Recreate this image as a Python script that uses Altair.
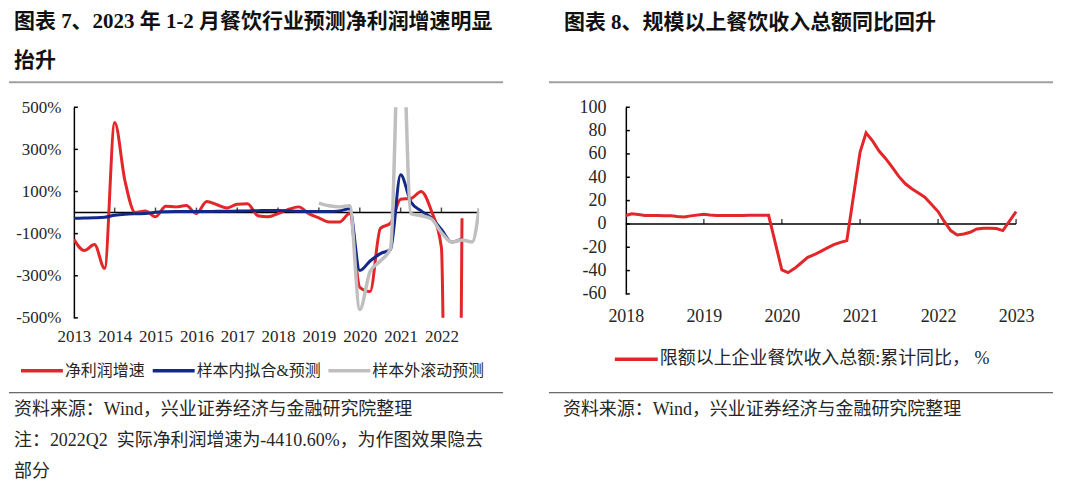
import altair as alt
import pandas as pd

# ---------------- texts ----------------
LEFT_TITLE_1 = "图表 7、2023 年 1-2 月餐饮行业预测净利润增速明显"
LEFT_TITLE_2 = "抬升"
RIGHT_TITLE = "图表 8、规模以上餐饮收入总额同比回升"
SOURCE = "资料来源：Wind，兴业证券经济与金融研究院整理"
NOTE_1 = "注：2022Q2\u00a0\u00a0实际净利润增速为-4410.60%，为作图效果隐去"
NOTE_2 = "部分"

SERIES_LEFT = ["净利润增速", "样本内拟合&预测", "样本外滚动预测"]
SERIES_RIGHT = ["限额以上企业餐饮收入总额:累计同比，\u00a0%"]

# ---------------- left chart data (quarterly, %) ----------------
quarters = [f"{y}-{m:02d}" for y in range(2013, 2023) for m in (3, 6, 9, 12)]
red_periods = quarters[:39]          # 2013Q1 .. 2022Q3
red_vals = [-127, -180, -152, -265,
            428, 150, 0, 8,
            -20, 30, 27, 33,
            -5, 52, 37, 22,
            40, 42, -15, -20,
            -5, 15, 27, -5,
            -25, -45, -45, -5,
            -355, -375, -75, -50,
            63, 67, 100, 8,
            -167, -4410.6, -27]
blue_periods = quarters[:39]
blue_vals = [-27, -26, -25, -22,
             -13, -8, -6, -5,
             2, 4, 5, 5,
             5, 5, 6, 6,
             7, 8, 9, 10,
             10, 8, 6, 5,
             5, 5, 8, 18,
             -275, -230, -195, -175,
             180, 50, 8, -25,
             -80, -140, -125]
gray_periods = quarters[24:] + ["2023-02"]   # 2019Q1 .. 2022Q4, 2023M1-2
gray_vals = [45, 32, 27, 32,
             -460, -280, -230, -170,
             1100, -5, -15, -30,
             -95, -140, -130, -140,
             20]

# ---------------- right chart data (monthly cumulative yoy, %) ----------------
months = [f"{y}-{m:02d}" for y in range(2018, 2023) for m in range(2, 13)] + ["2023-02"]
right_vals = [7.2, 8.6, 8.0, 7.2, 7.2, 7.2, 6.9, 6.9, 6.3, 6.0, 6.9,
              8.3, 7.7, 7.2, 7.2, 7.2, 7.3, 7.3, 7.4, 7.4, 7.4, 7.4,
              -39.5, -41.8, -38.1, -33.5, -28.7, -26.4, -23.5, -20.6, -17.8, -15.8, -14.3,
              61.6, 78.0, 71.0, 62.5, 55.9, 48.7, 40.7, 34.4, 30.1, 26.4, 22.9,
              10.6, 2.3, -5.7, -9.5, -8.6, -7.2, -4.3, -3.7, -3.7, -4.0, -5.7,
              10.6]

Y_TICKS_L = [500, 300, 100, -100, -300, -500]
Y_TICKS_R = [100, 80, 60, 40, 20, 0, -20, -40, -60]
YEARS_L = list(range(2013, 2023))
YEARS_R = list(range(2018, 2024))

# ---------------- styles ----------------
FONT = "Liberation Serif, Noto Sans CJK SC"
TXT = "#262626"
RED = "#E3262A"
BLUE = "#13298A"
GRAY = "#BFBFBF"


def d(p):
    return p.replace("-", "/") + "/01"


def txt(s, x, y, size, weight="normal"):
    return alt.Chart(pd.DataFrame({"t": [s]})).mark_text(
        align="left", baseline="middle", font=FONT, fontSize=size,
        fontWeight=weight, color="#111111" if weight == "bold" else TXT
    ).encode(x=alt.value(x), y=alt.value(y), text="t:N")


def hline(x1, x2, y, color, w, opacity=1.0):
    return alt.Chart(pd.DataFrame({"a": [0]})).mark_rule(
        color=color, strokeWidth=w, opacity=opacity
    ).encode(x=alt.value(x1), x2=alt.value(x2), y=alt.value(y))


# ================= LEFT PANEL =================
left_df = pd.DataFrame(
    [{"series": SERIES_LEFT[0], "date": d(p), "value": v} for p, v in zip(red_periods, red_vals)]
    + [{"series": SERIES_LEFT[1], "date": d(p), "value": v} for p, v in zip(blue_periods, blue_vals)]
    + [{"series": SERIES_LEFT[2], "date": d(p), "value": v} for p, v in zip(gray_periods, gray_vals)]
)

xs_l = alt.Scale(domain=[alt.DateTime(year=2013, month=3, date=1),
                         alt.DateTime(year=2023, month=2, date=1)], nice=False)
ys_l = alt.Scale(domain=[-500, 500], nice=False, zero=False)
xa_l = alt.Axis(values=[alt.DateTime(year=y, month=3, date=1) for y in YEARS_L],
                format="%Y", title=None, domain=False, ticks=False, grid=False,
                labelFont=FONT, labelFontSize=17, labelColor=TXT, labelPadding=11,
                labelFlush=False, labelOverlap=False)
ya_l = alt.Axis(values=Y_TICKS_L, labelExpr="datum.value + '%'", title=None, grid=False,
                ticks=False, domain=True, domainColor="#000000", domainWidth=1.5,
                labelFont=FONT, labelFontSize=17, labelColor=TXT, labelPadding=13)
col_l = alt.Scale(domain=SERIES_LEFT, range=[RED, BLUE, GRAY])
leg_l = alt.Legend(orient="none", legendX=-55, legendY=241, direction="horizontal",
                   columns=3, title=None, symbolType="stroke", symbolSize=1764,
                   symbolStrokeWidth=3.5, labelFont=FONT, labelFontSize=16,
                   labelColor=TXT, labelOffset=0, columnPadding=0, padding=0)


def left_line(name, width):
    return alt.Chart(left_df).transform_filter(alt.datum.series == name).mark_line(
        interpolate="monotone", strokeWidth=width, clip=True
    ).encode(
        x=alt.X("date:T", scale=xs_l, axis=xa_l),
        y=alt.Y("value:Q", scale=ys_l, axis=ya_l),
        color=alt.Color("series:N", scale=col_l, legend=leg_l),
    )


zero_l = alt.Chart(pd.DataFrame({"start": [d("2013-03")], "end": [d("2023-02")], "v": [0]})).mark_rule(
    color="#000000", strokeWidth=1.5).encode(
    x=alt.X("start:T", scale=xs_l, axis=xa_l), x2="end:T",
    y=alt.Y("v:Q", scale=ys_l, axis=ya_l))
xt_l = alt.Chart(pd.DataFrame({"d": [d(f"{y}-03") for y in YEARS_L[1:]], "v": [0] * 9})).mark_tick(
    orient="vertical", size=5, thickness=1.5, yOffset=-2.5, color="#000000").encode(
    x=alt.X("d:T", scale=xs_l, axis=xa_l), y=alt.Y("v:Q", scale=ys_l, axis=ya_l))
yt_l = alt.Chart(pd.DataFrame({"v": Y_TICKS_L})).mark_rule(color="#000000", strokeWidth=1.5).encode(
    x=alt.value(0), x2=alt.value(4), y=alt.Y("v:Q", scale=ys_l, axis=ya_l))

left = alt.layer(
    hline(-65, 467, -99, "white", 0, 0),
    txt(LEFT_TITLE_1, -60, -85, 21, "bold"),
    txt(LEFT_TITLE_2, -60, -46, 21, "bold"),
    hline(-65, 430, -25, "#A0A0A0", 2),
    hline(-65, 430, 286, "#404040", 1),
    txt(SOURCE, -60, 303, 18),
    txt(NOTE_1, -60, 334, 18),
    txt(NOTE_2, -60, 365, 18),
    zero_l, xt_l, yt_l,
    left_line(SERIES_LEFT[0], 3),
    left_line(SERIES_LEFT[1], 3),
    left_line(SERIES_LEFT[2], 3.5),
).properties(width=406, height=211)

# ================= RIGHT PANEL =================
right_df = pd.DataFrame({"series": SERIES_RIGHT[0], "date": [d(m) for m in months], "value": right_vals})

xs_r = alt.Scale(domain=[alt.DateTime(year=2018, month=2, date=1),
                         alt.DateTime(year=2023, month=2, date=1)], nice=False)
ys_r = alt.Scale(domain=[-60, 100], nice=False, zero=False)
xa_r = alt.Axis(values=[alt.DateTime(year=y, month=2, date=1) for y in YEARS_R],
                format="%Y", title=None, domain=False, ticks=False, grid=False,
                labelFont=FONT, labelFontSize=18, labelColor=TXT, labelPadding=14,
                labelFlush=False, labelOverlap=False)
ya_r = alt.Axis(values=Y_TICKS_R, labelExpr="'' + datum.value", title=None, grid=False,
                ticks=False, domain=True, domainColor="#000000", domainWidth=1.5,
                labelFont=FONT, labelFontSize=18, labelColor=TXT, labelPadding=20)
col_r = alt.Scale(domain=SERIES_RIGHT, range=[RED])
leg_r = alt.Legend(orient="none", legendX=-13, legendY=229, direction="horizontal",
                   title=None, symbolType="stroke", symbolSize=1849,
                   symbolStrokeWidth=3.5, labelFont=FONT, labelFontSize=18,
                   labelColor=TXT, labelOffset=0, padding=0, labelLimit=600)

line_r = alt.Chart(right_df).mark_line(strokeWidth=3).encode(
    x=alt.X("date:T", scale=xs_r, axis=xa_r),
    y=alt.Y("value:Q", scale=ys_r, axis=ya_r),
    color=alt.Color("series:N", scale=col_r, legend=leg_r),
)
zero_r = alt.Chart(pd.DataFrame({"start": [d("2018-02")], "end": [d("2023-02")], "v": [0]})).mark_rule(
    color="#000000", strokeWidth=1.5).encode(
    x=alt.X("start:T", scale=xs_r, axis=xa_r), x2="end:T",
    y=alt.Y("v:Q", scale=ys_r, axis=ya_r))
xt_r = alt.Chart(pd.DataFrame({"d": [d(f"{y}-02") for y in YEARS_R[1:]], "v": [0] * 5})).mark_tick(
    orient="vertical", size=5, thickness=1.5, yOffset=-2.5, color="#000000").encode(
    x=alt.X("d:T", scale=xs_r, axis=xa_r), y=alt.Y("v:Q", scale=ys_r, axis=ya_r))
yt_r = alt.Chart(pd.DataFrame({"v": Y_TICKS_R})).mark_rule(color="#000000", strokeWidth=1.5).encode(
    x=alt.value(0), x2=alt.value(4), y=alt.Y("v:Q", scale=ys_r, axis=ya_r))

right = alt.layer(
    hline(-77, 447, -99, "white", 0, 0),
    txt(RIGHT_TITLE, -62, -84, 21, "bold"),
    hline(-77, 428, -25, "#A0A0A0", 2),
    hline(-77, 428, 286, "#404040", 1),
    txt(SOURCE, -63, 303, 18),
    zero_r, xt_r, yt_r,
    line_r,
).properties(width=391, height=187)

chart = alt.hconcat(left, right, spacing=8).resolve_scale(
    color="independent", x="independent", y="independent"
).resolve_legend(color="independent").properties(
    padding=0, background="white"
).configure_view(stroke=None)

chart.save("out.html", embed_options={"renderer": "svg", "actions": False})
